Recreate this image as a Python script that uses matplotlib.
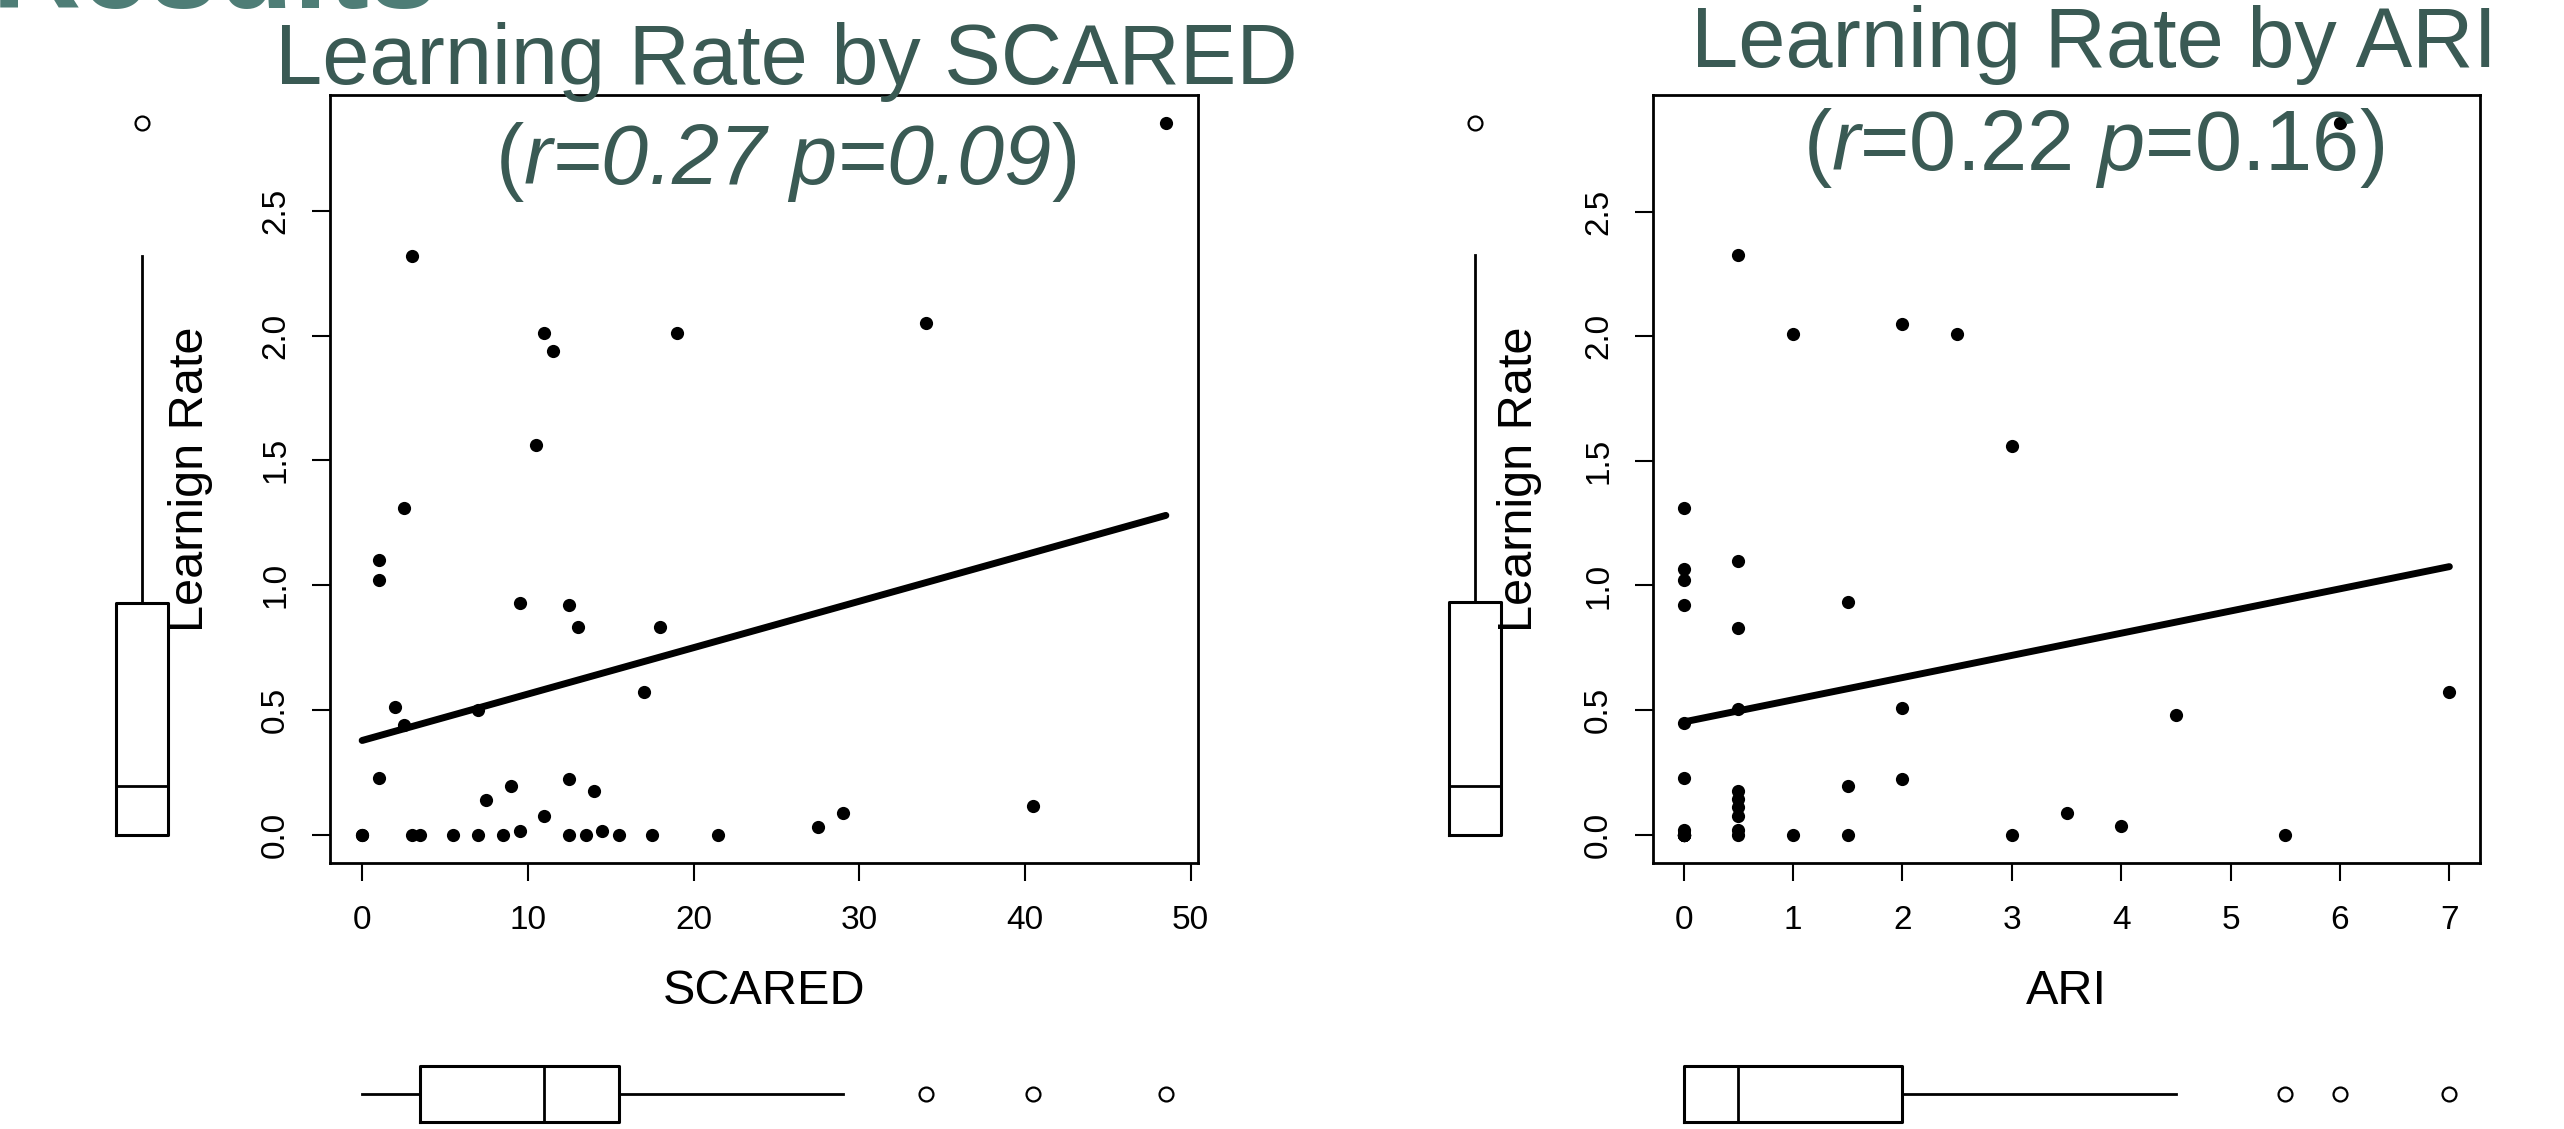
import numpy as np
import matplotlib.pyplot as plt

plt.rcParams['font.family'] = ['Liberation Sans', 'DejaVu Sans']
plt.rcParams['mathtext.fontset'] = 'custom'
plt.rcParams['mathtext.rm'] = 'Liberation Sans'
plt.rcParams['mathtext.it'] = 'Liberation Sans:italic'

# values
scared = [48.5, 3, 11, 11.5, 19, 34, 10.5, 2.5, 1, 1, 9.5, 12.5, 13, 18, 17,
          2, 7, 2.5, 1, 12.5, 9, 14, 7.5, 29, 40.5, 11, 27.5,
          0, 0, 3, 3.5, 5.5, 7, 8.5, 9.5, 12.5, 13.5, 14.5, 15.5, 17.5, 21.5]
lr_scared = [2.85, 2.32, 2.01, 1.94, 2.01, 2.05, 1.56, 1.31, 1.10, 1.02, 0.93, 0.92, 0.83, 0.83, 0.57,
             0.51, 0.50, 0.44, 0.225, 0.223, 0.195, 0.176, 0.137, 0.088, 0.113, 0.076, 0.031,
             0, 0, 0, 0, 0, 0, 0, 0.016, 0, 0, 0.016, 0, 0, 0]

ari = [0] * 14 + [0.5] * 10 + [1, 1, 1.5, 1.5, 1.5, 2, 2, 2, 2.5, 3, 3, 3.5, 4, 4.5, 5.5, 6, 7]
lr_ari = [1.31, 1.066, 1.02, 0.92, 0.446, 0.226, 0.02, 0, 0, 0, 0, 0, 0, 0,
          2.325, 1.10, 0.83, 0.503, 0.175, 0.142, 0.111, 0.074, 0.02, 0,
          2.01, 0, 0.935, 0.195, 0, 2.05, 0.507, 0.222, 2.01, 1.56, 0,
          0.088, 0.033, 0.479, 0, 2.855, 0.573]

# fitted lines (intercept, slope) as shown in the picture
fit_scared = (0.377, 0.0186)
fit_ari = (0.452, 0.0891)

yticks = [0.0, 0.5, 1.0, 1.5, 2.0, 2.5]
scared_ticks = [0, 10, 20, 30, 40, 50]
ari_ticks = [0, 1, 2, 3, 4, 5, 6, 7]

TEAL = '#3A5A54'
W, H = 2564, 1129
fig = plt.figure(figsize=(W / 100, H / 100), dpi=100)


def rect(x0, y0, x1, y1):
    # pixel box (top-left origin) -> figure fraction
    return [x0 / W, 1 - y1 / H, (x1 - x0) / W, (y1 - y0) / H]


def rlim(v):
    v = np.asarray(v, float)
    d = 0.04 * (v.max() - v.min())
    return v.min() - d, v.max() + d


box_kw = dict(showcaps=False,
              boxprops=dict(color='black', lw=2.2),
              whiskerprops=dict(color='black', lw=2.0),
              medianprops=dict(color='black', lw=2.0),
              flierprops=dict(marker='o', mfc='none', mec='black', ms=10, mew=1.6))

panels = [
    dict(x=scared, y=lr_scared, fit=fit_scared, ticks=scared_ticks, xlab='SCARED',
         box=(330, 95, 1198, 863), ycx=142,
         title='Learning Rate by SCARED', tx=786, ty=84,
         sub=r'$\mathrm{(}$r=0.27 p=0.09$\mathrm{)}$', sub_style='italic', sy=184),
    dict(x=ari, y=lr_ari, fit=fit_ari, ticks=ari_ticks, xlab='ARI',
         box=(1653, 95, 2480, 863), ycx=1475,
         title='Learning Rate by ARI', tx=2094, ty=67,
         sub=r'($\mathit{r}$=0.22 $\mathit{p}$=0.16)', sub_style='normal', sy=170),
]

for p in panels:
    x = np.asarray(p['x'], float)
    y = np.asarray(p['y'], float)
    x0, y0, x1, y1 = p['box']
    xl, yl = rlim(x), rlim(y)

    ax = fig.add_axes(rect(x0, y0, x1, y1))
    ax.plot(x, y, 'o', color='black', ms=9.5, mew=0)
    a, b = p['fit']
    xs = np.array([x.min(), x.max()])
    ax.plot(xs, a + b * xs, color='black', lw=5, solid_capstyle='round')
    ax.set_xlim(xl)
    ax.set_ylim(yl)
    ax.set_xticks(p['ticks'])
    ax.set_yticks(yticks)
    ax.set_yticklabels([f'{v:.1f}' for v in yticks])
    for lab in ax.get_yticklabels():
        lab.set_rotation(90)
        lab.set_va('center')
    ax.tick_params(direction='out', length=13, width=1.5, labelsize=24, color='black')
    ax.tick_params(axis='x', pad=17)
    ax.tick_params(axis='y', pad=15)
    for s in ax.spines.values():
        s.set_linewidth(2)
    ax.set_xlabel(p['xlab'], fontsize=35, va='center')
    ax.xaxis.set_label_coords(0.5, (y1 - 992) / (y1 - y0))
    ax.set_ylabel('Learnign Rate', fontsize=35, va='center')
    ax.yaxis.set_label_coords(-0.161, 0.5)

    # marginal boxplot of the learning rate
    cx = p['ycx']
    axy = fig.add_axes(rect(cx - 60, y0, cx + 60, y1))
    axy.boxplot(y, positions=[0], widths=52 / 60, **box_kw)
    axy.set_xlim(-1, 1)
    axy.set_ylim(yl)
    axy.axis('off')

    # marginal boxplot of the predictor
    axx = fig.add_axes(rect(x0, 1034, x1, 1129))
    axx.boxplot(x, positions=[0], widths=56 / 60, vert=False, **box_kw)
    axx.set_xlim(xl)
    axx.set_ylim(-35 / 60, 1)
    axx.axis('off')

    fig.text(p['tx'] / W, 1 - p['ty'] / H, p['title'], ha='center', va='baseline',
             fontsize=61, color=TEAL)
    fig.text(p['tx'] / W, 1 - p['sy'] / H, p['sub'], ha='center', va='baseline',
             fontsize=61, color=TEAL, style=p['sub_style'])

# slide heading, cut off at the top edge as in the original
fig.text(-8 / W, 1 - 8 / H, 'Results', ha='left', va='baseline', fontsize=89,
         weight='bold', color='#4E7D76')

fig.savefig('out.png', dpi=100)
